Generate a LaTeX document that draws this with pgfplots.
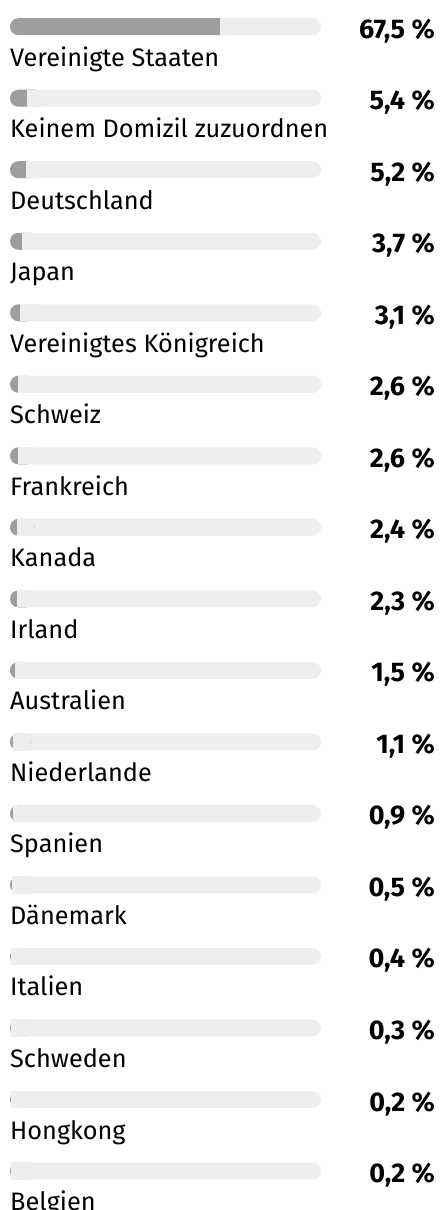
\documentclass[border=0pt]{standalone}
\usepackage{fontspec}
\setmainfont{Fira Sans}
\usepackage{pgfplots}
\usepackage{pgfplotstable}
\pgfplotsset{compat=1.18}
\definecolor{trackc}{HTML}{EEEEEE}
\definecolor{barc}{HTML}{9E9E9E}
\pgfplotstableread[col sep=semicolon]{
y;v;lab;name
0;67.5;67,5;Vereinigte Staaten
1;5.4;5,4;Keinem Domizil zuzuordnen
2;5.2;5,2;Deutschland
3;3.7;3,7;Japan
4;3.1;3,1;Vereinigtes Königreich
5;2.6;2,6;Schweiz
6;2.6;2,6;Frankreich
7;2.4;2,4;Kanada
8;2.3;2,3;Irland
9;1.5;1,5;Australien
10;1.1;1,1;Niederlande
11;0.9;0,9;Spanien
12;0.5;0,5;Dänemark
13;0.4;0,4;Italien
14;0.3;0,3;Schweden
15;0.2;0,2;Hongkong
16;0.2;0,2;Belgien
}\data
\begin{document}
\begin{tikzpicture}
\begin{axis}[
  scale only axis, width=440pt, height=1210pt,
  xmin=-3.2154, xmax=138.264,
  ymin=-0.3733, ymax=16.545, y dir=reverse,
  hide axis, clip=false,
]
% track (0-100 %)
\addplot[xbar, bar width=17pt, fill=trackc, draw=none, rounded corners=8.5pt]
  table[x expr=100, y=y]{\data};
% value bar, rounded on the left
\addplot[xbar, bar width=17pt, fill=barc, draw=none, rounded corners=8.5pt]
  table[x expr=\thisrow{v}+5.466, y=y]{\data};
% square right end of the value bar
\addplot[draw=none, mark=none,
  error bars/.cd, x dir=plus, x explicit, error mark=none,
  error bar style={draw=trackc, line width=17.2pt, line cap=butt}]
  table[x=v, y=y, x error expr=5.466]{\data};
% value labels
\addplot[draw=none, mark=none, point meta=explicit symbolic,
  nodes near coords={\pgfplotspointmeta\ \%},
  every node near coord/.append style={font=\fontsize{27}{32}\selectfont\bfseries,
    anchor=base east, yshift=-11.5pt, inner sep=0pt, text=black}]
  table[x expr=136.66, y=y, meta=lab]{\data};
% category labels
\addplot[draw=none, mark=none, point meta=explicit symbolic,
  nodes near coords={\pgfplotspointmeta},
  every node near coord/.append style={font=\fontsize{25.3}{30}\selectfont,
    anchor=base west, yshift=-39.5pt, inner sep=0pt, text=black}]
  table[x expr=0, y=y, meta=name]{\data};
\end{axis}
\pgfresetboundingbox
\path (current axis.south west) rectangle (current axis.north east);
\end{tikzpicture}
\end{document}
